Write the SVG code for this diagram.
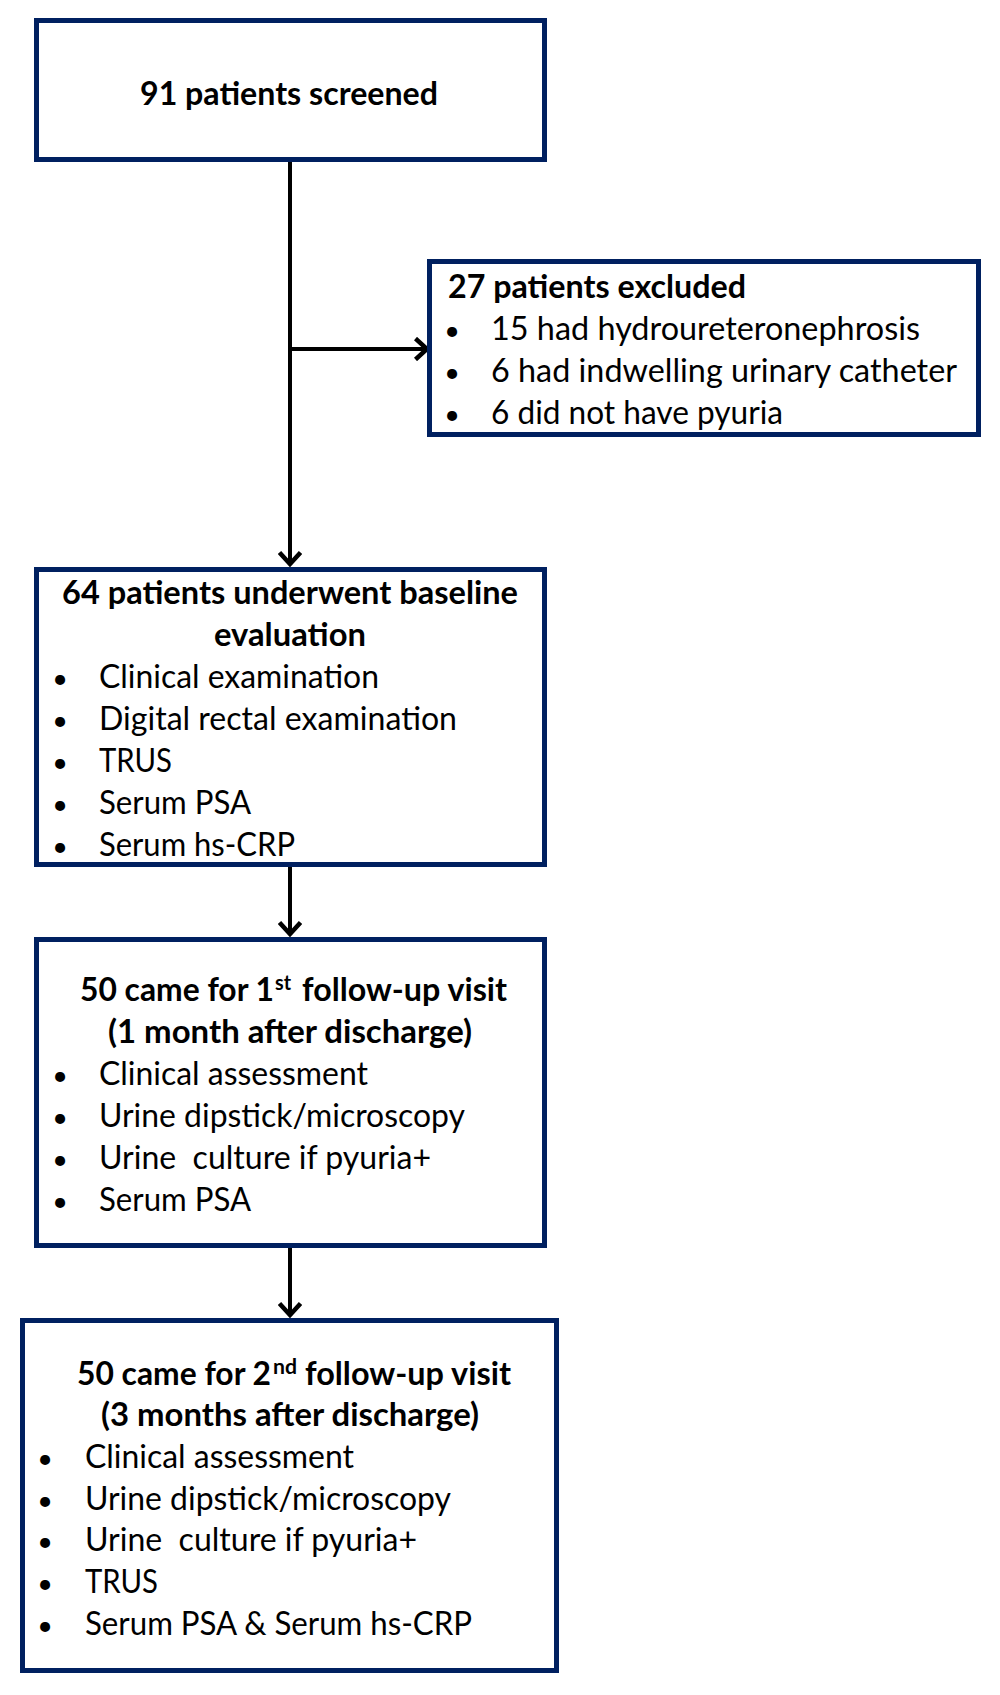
<svg xmlns="http://www.w3.org/2000/svg" width="1000" height="1695" viewBox="0 0 1000 1695">
  <defs>
    <style>
      .box { fill: #ffffff; stroke: #002060; stroke-width: 5; }
      .t { font-family: Lato, "Open Sans", "Liberation Sans", sans-serif; font-size: 32px; fill: #000000; }
      .b { font-weight: bold; }
      .sup { font-size: 21px; }
      .bul { text-anchor: middle; font-size: 27px; }
      .conn { stroke: #000000; stroke-width: 4; fill: none; }
    </style>
    <marker id="ah" viewBox="0 0 24 24" refX="21" refY="12" markerWidth="24" markerHeight="24" markerUnits="userSpaceOnUse" orient="auto">
      <path d="M9.5,1.5 L21,12 L9.5,22.5" fill="none" stroke="#000000" stroke-width="4.5"/>
    </marker>
  </defs>
  <rect width="1000" height="1695" fill="#ffffff"/>

  <g id="connectors">
    <path class="conn" d="M290,162 L290,564" marker-end="url(#ah)"/>
    <path class="conn" d="M290,349 L427,349" marker-end="url(#ah)"/>
    <path class="conn" d="M290,867 L290,934" marker-end="url(#ah)"/>
    <path class="conn" d="M290,1248 L290,1315" marker-end="url(#ah)"/>
  </g>

  <g id="screened">
    <rect class="box" x="36.5" y="20.5" width="508" height="139"/>
    <text class="t b" x="140" y="104.5" textLength="298" lengthAdjust="spacingAndGlyphs">91 patients screened</text>
  </g>

  <g id="excluded">
    <rect class="box" x="429.5" y="261.5" width="549" height="173"/>
    <text class="t b" x="448" y="297.5" textLength="298" lengthAdjust="spacingAndGlyphs">27 patients excluded</text>
    <text class="t bul" x="452" y="339.5">•</text>
    <text class="t" x="491" y="339.5" textLength="429" lengthAdjust="spacingAndGlyphs">15 had hydroureteronephrosis</text>
    <text class="t bul" x="452" y="381.5">•</text>
    <text class="t" x="491" y="381.5" textLength="466" lengthAdjust="spacingAndGlyphs">6 had indwelling urinary catheter</text>
    <text class="t bul" x="452" y="423.5">•</text>
    <text class="t" x="491" y="423.5" textLength="292" lengthAdjust="spacingAndGlyphs">6 did not have pyuria</text>
  </g>

  <g id="baseline">
    <rect class="box" x="36.5" y="569.5" width="508" height="295"/>
    <text class="t b" x="62" y="603.5" textLength="456" lengthAdjust="spacingAndGlyphs">64 patients underwent baseline</text>
    <text class="t b" x="214" y="645.5" textLength="152" lengthAdjust="spacingAndGlyphs">evaluation</text>
    <text class="t bul" x="60" y="687.5">•</text>
    <text class="t" x="99" y="687.5" textLength="280" lengthAdjust="spacingAndGlyphs">Clinical examination</text>
    <text class="t bul" x="60" y="729.5">•</text>
    <text class="t" x="99" y="729.5" textLength="358" lengthAdjust="spacingAndGlyphs">Digital rectal examination</text>
    <text class="t bul" x="60" y="771.5">•</text>
    <text class="t" x="99" y="771.5" textLength="73" lengthAdjust="spacingAndGlyphs">TRUS</text>
    <text class="t bul" x="60" y="813.5">•</text>
    <text class="t" x="99" y="813.5" textLength="152" lengthAdjust="spacingAndGlyphs">Serum PSA</text>
    <text class="t bul" x="60" y="855.5">•</text>
    <text class="t" x="99" y="855.5" textLength="196" lengthAdjust="spacingAndGlyphs">Serum hs-CRP</text>
  </g>

  <g id="followup1">
    <rect class="box" x="36.5" y="939.5" width="508" height="306"/>
    <text class="t b" x="80" y="1000.5" textLength="194" lengthAdjust="spacingAndGlyphs">50 came for 1</text>
    <text class="t b sup" x="275" y="989.5" textLength="16" lengthAdjust="spacingAndGlyphs">st</text>
    <text class="t b" x="302" y="1000.5" textLength="205" lengthAdjust="spacingAndGlyphs">follow-up visit</text>
    <text class="t b" x="108" y="1042.5" textLength="364" lengthAdjust="spacingAndGlyphs">(1 month after discharge)</text>
    <text class="t bul" x="60" y="1084.5">•</text>
    <text class="t" x="99" y="1084.5" textLength="269" lengthAdjust="spacingAndGlyphs">Clinical assessment</text>
    <text class="t bul" x="60" y="1126.5">•</text>
    <text class="t" x="99" y="1126.5" textLength="366" lengthAdjust="spacingAndGlyphs">Urine dipstick/microscopy</text>
    <text class="t bul" x="60" y="1168.5">•</text>
    <text class="t" x="99" y="1168.5" textLength="332" lengthAdjust="spacingAndGlyphs" xml:space="preserve">Urine  culture if pyuria+</text>
    <text class="t bul" x="60" y="1210.5">•</text>
    <text class="t" x="99" y="1210.5" textLength="152" lengthAdjust="spacingAndGlyphs">Serum PSA</text>
  </g>

  <g id="followup2">
    <rect class="box" x="22.5" y="1320.5" width="534" height="350"/>
    <text class="t b" x="77" y="1384.5" textLength="194" lengthAdjust="spacingAndGlyphs">50 came for 2</text>
    <text class="t b sup" x="273" y="1373.5" textLength="24" lengthAdjust="spacingAndGlyphs">nd</text>
    <text class="t b" x="305" y="1384.5" textLength="206" lengthAdjust="spacingAndGlyphs">follow-up visit</text>
    <text class="t b" x="101" y="1425.5" textLength="378" lengthAdjust="spacingAndGlyphs">(3 months after discharge)</text>
    <text class="t bul" x="45" y="1467.5">•</text>
    <text class="t" x="85" y="1467.5" textLength="269" lengthAdjust="spacingAndGlyphs">Clinical assessment</text>
    <text class="t bul" x="45" y="1509.5">•</text>
    <text class="t" x="85" y="1509.5" textLength="366" lengthAdjust="spacingAndGlyphs">Urine dipstick/microscopy</text>
    <text class="t bul" x="45" y="1550.5">•</text>
    <text class="t" x="85" y="1550.5" textLength="332" lengthAdjust="spacingAndGlyphs" xml:space="preserve">Urine  culture if pyuria+</text>
    <text class="t bul" x="45" y="1592.5">•</text>
    <text class="t" x="85" y="1592.5" textLength="73" lengthAdjust="spacingAndGlyphs">TRUS</text>
    <text class="t bul" x="45" y="1634.5">•</text>
    <text class="t" x="85" y="1634.5" textLength="387" lengthAdjust="spacingAndGlyphs">Serum PSA &amp; Serum hs-CRP</text>
  </g>
</svg>
